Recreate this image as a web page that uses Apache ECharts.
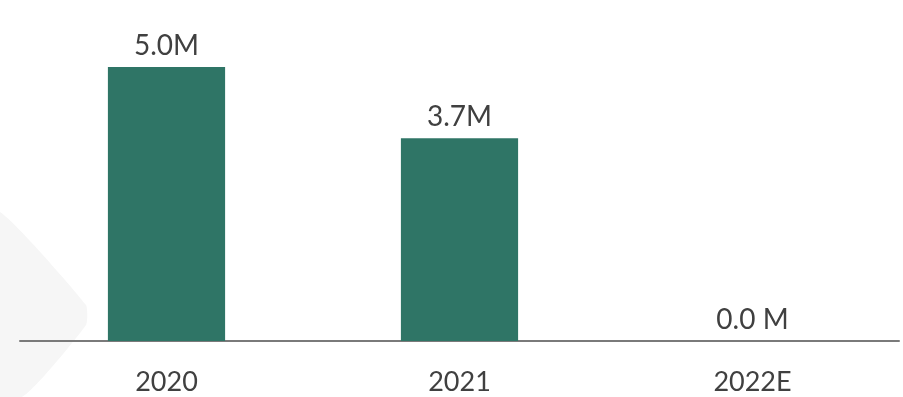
<!DOCTYPE html>
<html>
<head>
<meta charset="utf-8">
<script src="https://cdn.jsdelivr.net/npm/echarts@6/dist/echarts.min.js"></script>
<style>
  html, body { margin: 0; padding: 0; background: #ffffff; }
  #chart { width: 903px; height: 397px; }
</style>
</head>
<body>
<div id="chart"></div>
<script>
// Yearly totals, in millions
const categories = ['2020', '2021', '2022E'];
const values = [5.0, 3.7, 0.0];
const valueLabels = ['5.0M', '3.7M', '0.0 M'];

const FONT = 'Lato, "Open Sans", sans-serif';
const TEXT = '#404040';

const chart = echarts.init(document.getElementById('chart'), null, { renderer: 'canvas' });

chart.setOption({
  backgroundColor: '#ffffff',
  animation: false,
  graphic: [{
    // faint rounded diamond in the lower-left background
    type: 'polygon',
    z: -10,
    silent: true,
    shape: {
      points: [[-60, 212], [0, 212], [86, 305], [86, 325], [22, 397], [-60, 397]],
      smooth: 0.15
    },
    style: { fill: '#f6f6f6' }
  }],
  grid: { left: 20, right: 4, top: 67, bottom: 56 },
  xAxis: {
    type: 'category',
    data: categories,
    axisLine: { show: true, lineStyle: { color: '#7a7a7a', width: 2 } },
    axisTick: { show: false },
    axisLabel: {
      color: TEXT,
      fontFamily: FONT,
      fontSize: 27,
      margin: 28
    }
  },
  yAxis: {
    type: 'value',
    min: 0,
    max: 5,
    show: false,
    splitLine: { show: false }
  },
  series: [{
    type: 'bar',
    data: values,
    barWidth: '40%',
    itemStyle: { color: '#2f7566' },
    label: {
      show: true,
      position: 'top',
      distance: 7,
      color: TEXT,
      fontFamily: FONT,
      fontSize: 28,
      formatter: p => valueLabels[p.dataIndex]
    }
  }]
});
</script>
</body>
</html>
